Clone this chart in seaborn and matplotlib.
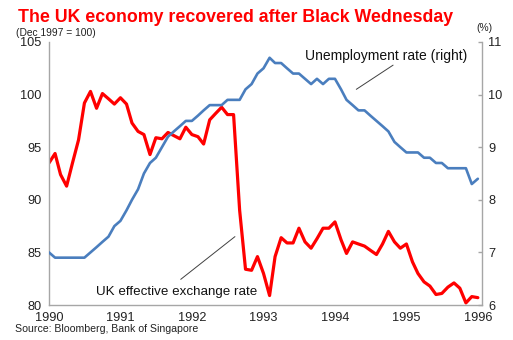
import matplotlib
matplotlib.use("Agg")
import matplotlib.pyplot as plt
import seaborn as sns
import pandas as pd

sns.set_theme(style="white")
plt.rcParams['font.family'] = ['Liberation Sans', 'DejaVu Sans']

months = pd.date_range("1990-01-01", periods=73, freq="MS")

exchange_rate = [
    93.5, 94.4, 92.4, 91.3, 93.5, 95.7, 99.2, 100.3, 98.7, 100.1, 99.6, 99.1,
    99.7, 99.1, 97.3, 96.5, 96.2, 94.3, 95.9, 95.8, 96.4, 96.1, 95.8, 96.9,
    96.2, 96.0, 95.3, 97.6, 98.2, 98.8, 98.1, 98.1, 89.0, 83.4, 83.3, 84.6,
    83.0, 80.9, 84.6, 86.4, 85.9, 85.9, 87.3, 86.0, 85.4, 86.3, 87.3, 87.3,
    87.9, 86.2, 84.9, 86.0, 85.8, 85.6, 85.2, 84.8, 85.8, 87.0, 86.0, 85.4,
    85.8, 84.1, 83.0, 82.2, 81.8, 81.0, 81.1, 81.7, 82.1, 81.6, 80.2, 80.8, 80.7,
]

unemployment = [
    7.0, 6.9, 6.9, 6.9, 6.9, 6.9, 6.9, 7.0, 7.1, 7.2, 7.3, 7.5,
    7.6, 7.8, 8.0, 8.2, 8.5, 8.7, 8.8, 9.0, 9.2, 9.3, 9.4, 9.5,
    9.5, 9.6, 9.7, 9.8, 9.8, 9.8, 9.9, 9.9, 9.9, 10.1, 10.2, 10.4,
    10.5, 10.7, 10.6, 10.6, 10.5, 10.4, 10.4, 10.3, 10.2, 10.3, 10.2, 10.3,
    10.3, 10.1, 9.9, 9.8, 9.7, 9.7, 9.6, 9.5, 9.4, 9.3, 9.1, 9.0,
    8.9, 8.9, 8.9, 8.8, 8.8, 8.7, 8.7, 8.6, 8.6, 8.6, 8.6, 8.3, 8.4,
]

year_labels = ["1990", "1991", "1992", "1993", "1994", "1995", "1996"]
left_ticks = [80, 85, 90, 95, 100, 105]
right_ticks = [6, 7, 8, 9, 10, 11]

df = pd.DataFrame({"date": months, "exchange": exchange_rate, "unemp": unemployment})

fig = plt.figure(figsize=(5.13, 3.40), dpi=100)
ax = fig.add_axes([0.0955, 0.1029, 0.844, 0.7736])
ax2 = ax.twinx()

sns.lineplot(data=df, x="date", y="exchange", ax=ax, color="#FF0000", linewidth=2.3)
sns.lineplot(data=df, x="date", y="unemp", ax=ax2, color="#4A7EBE", linewidth=1.9)

grey = "#A6A6A6"
xmin = pd.Timestamp("1990-01-01")
xmax = pd.Timestamp("1996-01-22")
ax.set_xlim(xmin, xmax)
ax.set_ylim(80, 105)
ax2.set_ylim(6, 11)

tick_dates = [pd.Timestamp(f"{y}-01-01") for y in year_labels]
ax.set_xticks(tick_dates)
ax.set_xticklabels(year_labels)
ax.set_yticks(left_ticks)
ax.set_yticklabels([str(v) for v in left_ticks])
ax2.set_yticks(right_ticks)
ax2.set_yticklabels([str(v) for v in right_ticks])

for a in (ax, ax2):
    a.set_xlabel("")
    a.set_ylabel("")
    a.spines["top"].set_visible(False)
    for s in ("left", "right", "bottom"):
        a.spines[s].set_color(grey)
        a.spines[s].set_linewidth(1.0)
    a.grid(False)

ax.spines["right"].set_visible(False)
ax2.spines["left"].set_visible(False)
ax2.spines["bottom"].set_visible(False)

ax.tick_params(axis="x", direction="out", length=4, width=1, color=grey, labelsize=9.2, pad=1, labelcolor="#222222")
ax.tick_params(axis="y", length=0, labelsize=9.2, pad=5.5, labelcolor="#222222")
ax2.tick_params(axis="y", direction="in", length=3, width=1, color=grey, labelsize=9.2, pad=4.5, labelcolor="#222222")

fig.text(0.035, 0.935, "The UK economy recovered after Black Wednesday", color="#FF0000",
         fontsize=12.8, fontweight="bold", ha="left", va="baseline")
fig.text(0.031, 0.895, "(Dec 1997 = 100)", fontsize=7.4, color="#222222", ha="left", va="baseline")
fig.text(0.929, 0.909, "(%)", fontsize=7.4, color="#222222", ha="left", va="baseline")
fig.text(0.029, 0.025, "Source: Bloomberg, Bank of Singapore", fontsize=7.6, color="#222222",
         ha="left", va="baseline")

ax2.text(pd.Timestamp("1994-09-20"), 10.73, "Unemployment rate (right)", fontsize=10,
         color="#111111", ha="center", va="center")
ax2.plot([pd.Timestamp("1994-10-25"), pd.Timestamp("1994-04-20")], [10.56, 10.1],
         color="#404040", linewidth=0.7)

ax.text(pd.Timestamp("1991-10-13"), 80.95, "UK effective exchange rate", fontsize=9.6,
        color="#111111", ha="center", va="baseline")
ax.plot([pd.Timestamp("1992-08-08"), pd.Timestamp("1991-11-05")], [86.5, 82.44],
        color="#404040", linewidth=0.7)

fig.savefig("out.png", dpi=100)
